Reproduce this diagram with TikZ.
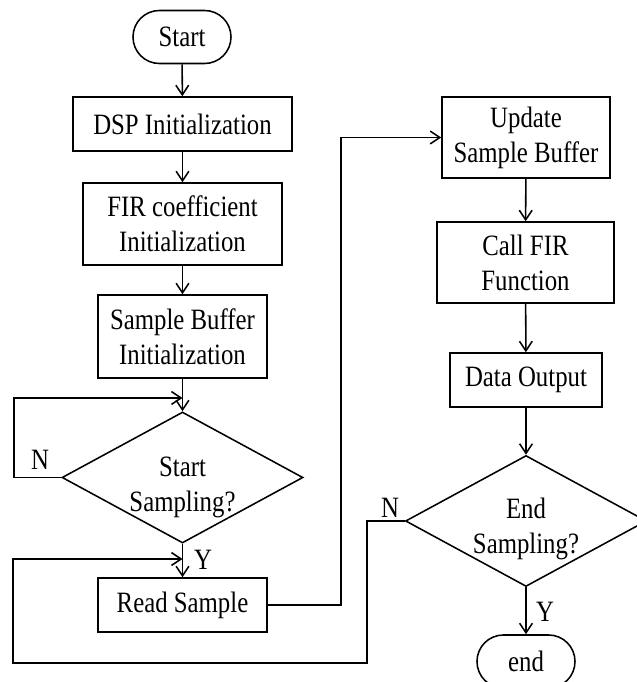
\documentclass[tikz,border=0pt]{standalone}
\usepackage{fontspec}
\setmainfont{Liberation Serif}[FakeStretch=0.84]
\usetikzlibrary{shapes.geometric,arrows.meta}

\begin{document}
\begin{tikzpicture}[line width=1.1pt,
  >={Straight Barb[length=2.4mm,width=3.2mm]},
  txt/.style={font=\fontsize{21}{24.9}\selectfont, align=center},
  box/.style={draw, rectangle, inner sep=0pt, txt},
  term/.style={draw, rounded corners=0.66cm, inner sep=0pt,
    minimum width=2.45cm, minimum height=1.325cm, txt},
  decide/.style={draw, diamond, inner sep=0pt,
    minimum width=6.025cm, minimum height=3.275cm}]

  % page frame
  \useasboundingbox (0,0) rectangle (15.925,17.05);

  % Left column
  \node[term] (start) at (4.55,16.125) {Start};
  \node[box, minimum width=5.475cm, minimum height=1.35cm] (dsp)
    at (4.5625,13.95) {DSP Initialization};
  \node[box, minimum width=4.975cm, minimum height=2.05cm] (fir)
    at (4.5625,11.45) {FIR coefficient\\Initialization};
  \node[box, minimum width=4.225cm, minimum height=2.075cm] (sbi)
    at (4.5625,8.6375) {Sample Buffer\\Initialization};
  \node[decide] (ds1) at (4.5625,5.1125) {};
  \node[txt] (ds1t) at (4.5625,4.86) {Start\\Sampling?};
  \node[box, minimum width=4.225cm, minimum height=1.35cm] (read)
    at (4.5625,1.925) {Read Sample};

  % Right column
  \node[box, minimum width=4.2cm, minimum height=2.025cm] (upd)
    at (13.15,13.6125) {Update\\Sample Buffer};
  \node[box, minimum width=4.425cm, minimum height=2.025cm] (call)
    at (13.1375,10.4875) {Call FIR\\Function};
  \node[box, minimum width=3.8cm, minimum height=1.35cm] (out)
    at (13.15,7.55) {Data Output};
  \node[decide] (ds2) at (13.15,4.025) {};
  \node[txt] (ds2t) at (13.15,3.82) {End\\Sampling?};
  \node[term] (end) at (13.15,0.5125) {end};

  % Loop entry points
  \coordinate (nin) at (4.5625,7.1);
  \coordinate (rin) at (4.5625,3.075);

  % Main flow
  \draw[->] (start) -- (dsp);
  \draw[->] (dsp) -- (fir);
  \draw[->] (fir) -- (sbi);
  \draw[->] (sbi) -- (ds1.north);
  \draw[->] (ds1.south) -- (read);
  \draw[->] (read.east) -- ++(1.825,0) |- (upd.west);
  \draw[->] (upd) -- (call);
  \draw[->] (call) -- (out);
  \draw[->] (out) -- (ds2.north);
  \draw[->] (ds2.south) -- (end);

  % Feedback loops
  \draw[->] (ds1.west) -- ++(-1.175,0) |- (nin);
  \draw[->] (ds2.west) -- ++(-0.95,0) -- ++(0,-3.55) -| (0.325,3.075) -- (rin);

  % Branch labels
  \node[txt] (n1) at (1.0,5.55) {N};
  \node[txt] (y1) at (5.075,3.05) {Y};
  \node[txt] (n2) at (9.75,4.35) {N};
  \node[txt] (y2) at (13.625,1.75) {Y};

\end{tikzpicture}
\end{document}
